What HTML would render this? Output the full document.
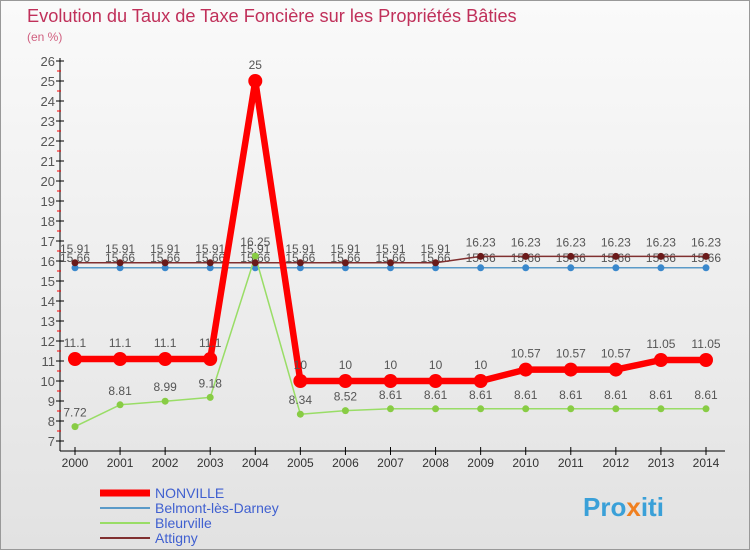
<!DOCTYPE html>
<html><head><meta charset="utf-8"><style>
body{margin:0;width:750px;height:550px;overflow:hidden;font-family:"Liberation Sans",sans-serif}
</style></head><body>
<svg id="c" width="750" height="550" xmlns="http://www.w3.org/2000/svg">
<defs><linearGradient id="bg" x1="0" y1="0" x2="0" y2="1"><stop offset="0" stop-color="#fafafa"/><stop offset="1" stop-color="#e2e2e2"/></linearGradient></defs>
<rect x="0.5" y="0.5" width="749" height="549" fill="url(#bg)" stroke="#999"/>
<text x="27" y="22" font-size="18.2" fill="#c0305a">Evolution du Taux de Taxe Foncière sur les Propriétés Bâties</text>
<text x="27" y="41" font-size="12" fill="#d06080">(en %)</text>
<g id="axes"></g><g id="series"></g>
<g font-size="14">
<line x1="100" y1="493" x2="150" y2="493" stroke="#f00" stroke-width="7"/>
<text x="155" y="498" fill="#4060d0">NONVILLE</text>
<line x1="100" y1="508" x2="150" y2="508" stroke="#5a9ac8" stroke-width="2"/>
<text x="155" y="513" fill="#4060d0">Belmont-lès-Darney</text>
<line x1="100" y1="523" x2="150" y2="523" stroke="#99dd66" stroke-width="2"/>
<text x="155" y="528" fill="#4060d0">Bleurville</text>
<line x1="100" y1="538" x2="150" y2="538" stroke="#803030" stroke-width="2"/>
<text x="155" y="543" fill="#4060d0">Attigny</text>
</g>
<text x="583" y="516" font-size="26" font-weight="bold" fill="#3aa0d8">Pro<tspan fill="#f08020">x</tspan>iti</text>
</svg>
<script>
const years=[2000,2001,2002,2003,2004,2005,2006,2007,2008,2009,2010,2011,2012,2013,2014];
const nonville=[11.1,11.1,11.1,11.1,25,10,10,10,10,10,10.57,10.57,10.57,11.05,11.05];
const belmont=[15.66,15.66,15.66,15.66,15.66,15.66,15.66,15.66,15.66,15.66,15.66,15.66,15.66,15.66,15.66];
const bleurville=[7.72,8.81,8.99,9.18,16.25,8.34,8.52,8.61,8.61,8.61,8.61,8.61,8.61,8.61,8.61];
const attigny=[15.91,15.91,15.91,15.91,15.91,15.91,15.91,15.91,15.91,16.23,16.23,16.23,16.23,16.23,16.23];
const yTicks=[7,8,9,10,11,12,13,14,15,16,17,18,19,20,21,22,23,24,25,26];
const NS="http://www.w3.org/2000/svg";
const X=i=>75+i*(706-75)/(years.length-1);
const Y=v=>61+(26-v)*20;
function mk(t,a,p){const e=document.createElementNS(NS,t);for(const k in a)e.setAttribute(k,a[k]);p.appendChild(e);return e;}
const ax=document.getElementById('axes'),sg=document.getElementById('series');
const yl=mk('line',{x1:60,y1:58,x2:60,y2:451,stroke:'#000'},ax);


const xl=mk('line',{x1:60,y1:451,x2:725,y2:451,stroke:'#000'},ax);


yTicks.forEach(v=>{
  mk('line',{x1:56,y1:Y(v),x2:64,y2:Y(v),stroke:'#000'},ax);
  if(v<26)mk('line',{x1:57,y1:Y(v)-10,x2:61,y2:Y(v)-10,stroke:'#f00'},ax);
  const t=mk('text',{x:55,y:Y(v)+5,'text-anchor':'end','font-size':13,fill:'#555'},ax);t.textContent=v;
  
  
});
years.forEach((y,i)=>{
  mk('line',{x1:X(i),y1:447,x2:X(i),y2:455,stroke:'#000'},ax);
  const t=mk('text',{x:X(i),y:467,'text-anchor':'middle','font-size':12,fill:'#333'},ax);t.textContent=y;
  
  
});
function series(d,color,w,r,dot,name,dy){
  const g=mk('g',{},sg);
  
  
  mk('polyline',{points:d.map((v,i)=>X(i)+','+Y(v)).join(' '),fill:'none',stroke:color,'stroke-width':w,'stroke-linejoin':'round'},g);
  d.forEach((v,i)=>{
    const c=mk('circle',{cx:X(i),cy:Y(v),r:r,fill:dot},g);
    
    
    const t=mk('text',{x:X(i),y:Y(v)+dy,'text-anchor':'middle','font-size':12,fill:'#555'},g);t.textContent=v;
    
    
  });
}
series(belmont,'#5a9ac8',1.5,3.5,'#3a88cc','belmont',-6);
series(bleurville,'#99dd66',1.5,3.5,'#88cc44','bleurville',-10);
series(attigny,'#803030',1.5,3.5,'#6a1a1a','attigny',-10);
series(nonville,'#ff0000',6.5,7,'#ff0000','nonville',-12);
</script>
</body></html>
